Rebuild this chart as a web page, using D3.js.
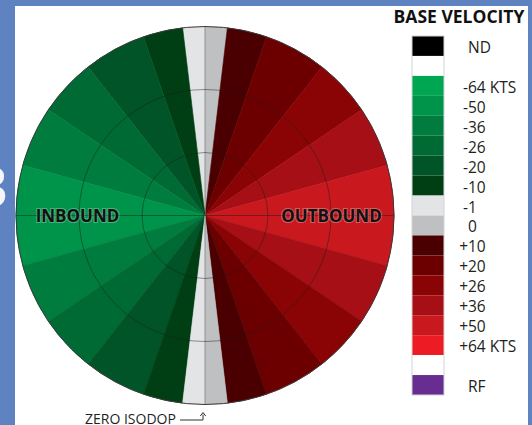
<!DOCTYPE html>
<html>
<head>
<meta charset="utf-8">
<script src="https://cdn.jsdelivr.net/npm/d3@7/dist/d3.min.js"></script>
<style>
  body { margin: 0; background: #fff; }
  svg { display: block; }
  text { font-family: "Open Sans", "DejaVu Sans", sans-serif; }
</style>
</head>
<body>
<script>
// Sector edges in degrees, clockwise from the zero isodop (north)
const sectorEdges = [0, 6.8, 19, 38.2, 56, 74.6, 105.4, 124, 141.8, 161, 173.2, 180];
// Radial velocity (kts) in each sector, west half (toward radar) and east half (away)
const inboundValues  = [-1, -10, -20, -26, -36, -50, -36, -26, -20, -10, -1];
const outboundValues = [0, 10, 20, 26, 36, 50, 36, 26, 20, 10, 0];
// Range rings (fractions of the display radius, in thirds)
const ringTicks = [1, 2, 3];

// Colour table
const velocityValues = [-64, -50, -36, -26, -20, -10, -1, 0, 10, 20, 26, 36, 50, 64];
const velocityColors = ["#00a651", "#00934a", "#007d3e", "#006a34", "#005427", "#003f13",
                        "#e3e4e6", "#bfc0c2",
                        "#4a0000", "#6c0000", "#8a0406", "#a60f15", "#c9191f", "#ed1c24"];

// Legend entries, top to bottom
const legendKeys   = ["ND", "gap1", "-64", "-50", "-36", "-26", "-20", "-10", "-1", "0",
                      "+10", "+20", "+26", "+36", "+50", "+64", "gap2", "RF"];
const legendLabels = ["ND", "", "-64 KTS", "-50", "-36", "-26", "-20", "-10", "-1", "0",
                      "+10", "+20", "+26", "+36", "+50", "+64 KTS", "", "RF"];

const W = 532, H = 425;
const svg = d3.select("body").append("svg").attr("width", W).attr("height", H);

// frame
svg.append("rect").attr("width", W).attr("height", H).attr("fill", "#5f82c0");
svg.append("rect").attr("x", 15).attr("y", 6).attr("width", 513).attr("height", H - 6).attr("fill", "#ffffff");
svg.append("text").attr("x", -24).attr("y", 207)
  .attr("font-size", 56).attr("font-weight", 600).attr("fill", "#f4f6fb").text("3");

const cx = 205, cy = 215.5, R = 189;
const g = svg.append("g").attr("transform", `translate(${cx},${cy})`);

const angle = d3.scaleLinear().domain([0, 180]).range([0, Math.PI]);
const radius = d3.scaleLinear().domain([0, 3]).range([0, R]);
const color = d3.scaleOrdinal().domain(velocityValues).range(velocityColors);

const sectors = [];
outboundValues.forEach((v, i) => sectors.push({
  start: angle(sectorEdges[i]), end: angle(sectorEdges[i + 1]), value: v }));
inboundValues.forEach((v, i) => sectors.push({
  start: -angle(sectorEdges[i + 1]), end: -angle(sectorEdges[i]), value: v }));

const arc = d3.arc().innerRadius(0).outerRadius(radius(3))
  .startAngle(d => d.start).endAngle(d => d.end);

g.selectAll("path.sector").data(sectors).join("path")
  .attr("class", "sector")
  .attr("d", arc)
  .attr("fill", d => color(d.value))
  .attr("stroke", d => color(d.value))
  .attr("stroke-width", 0.6);

// range rings and axes
g.selectAll("circle.ring").data(ringTicks.slice(0, -1)).join("circle")
  .attr("class", "ring")
  .attr("r", d => radius(d))
  .attr("fill", "none").attr("stroke", "#1a1a1a").attr("stroke-opacity", 0.45).attr("stroke-width", 1);
g.append("line").attr("x1", -R).attr("x2", R).attr("y1", 0).attr("y2", 0)
  .attr("stroke", "#1a1a1a").attr("stroke-opacity", 0.45);
g.append("line").attr("x1", 0).attr("x2", 0).attr("y1", -R).attr("y2", R)
  .attr("stroke", "#1a1a1a").attr("stroke-opacity", 0.4);
g.append("circle").attr("r", radius(3))
  .attr("fill", "none").attr("stroke", "#3a3a3a").attr("stroke-width", 1);

// direction labels
[["INBOUND", -127.5], ["OUTBOUND", 126.5]].forEach(([t, x]) => {
  g.append("text").attr("x", x).attr("y", 6).attr("text-anchor", "middle")
    .attr("font-size", 17).attr("font-weight", 700).attr("fill", "#111")
    .attr("stroke", "#ffffff").attr("stroke-opacity", 0.3).attr("stroke-width", 2.2)
    .attr("paint-order", "stroke")
    .text(t);
});

// zero isodop call-out
svg.append("text").attr("x", 85).attr("y", 423.5).attr("font-size", 14).attr("fill", "#231f20")
  .text("ZERO ISODOP");
svg.append("path").attr("d", "M180,420 H203 V414.5").attr("fill", "none")
  .attr("stroke", "#333").attr("stroke-width", 1);
svg.append("path").attr("d", "M200.3,416 L203,412.5 L205.7,416").attr("fill", "none")
  .attr("stroke", "#333").attr("stroke-width", 1);

// legend
svg.append("text").attr("x", 459).attr("y", 22.5).attr("text-anchor", "middle")
  .attr("font-size", 17.5).attr("font-weight", 700).attr("fill", "#111")
  .text("BASE VELOCITY");

const legendColor = k => {
  if (k === "ND") return "#000000";
  if (k === "RF") return "#672d91";
  if (k.startsWith("gap")) return "#ffffff";
  return color(+k);
};

const band = d3.scaleBand().domain(legendKeys).range([36, 395]).padding(0);
const lg = svg.append("g");
lg.selectAll("rect").data(legendKeys).join("rect")
  .attr("x", 412).attr("y", d => band(d)).attr("width", 32).attr("height", band.bandwidth())
  .attr("fill", d => legendColor(d));
lg.append("rect").attr("x", 412).attr("y", 36).attr("width", 32).attr("height", 359)
  .attr("fill", "none").attr("stroke", "#d3d4d6").attr("stroke-width", 1);

const digitX = 468;
legendKeys.forEach((k, i) => {
  const lab = legendLabels[i];
  if (!lab) return;
  const y = band(k) + band.bandwidth() / 2 + 7;
  const sign = (lab[0] === "+" || lab[0] === "-") ? lab[0] : "";
  const rest = sign ? lab.slice(1) : lab;
  if (sign) {
    lg.append("text").attr("x", digitX).attr("y", y).attr("text-anchor", "end")
      .attr("font-size", 15.5).attr("fill", "#231f20").text(sign);
  }
  lg.append("text").attr("x", digitX).attr("y", y)
    .attr("font-size", 15.5).attr("fill", "#231f20").text(rest);
});
</script>
</body>
</html>
